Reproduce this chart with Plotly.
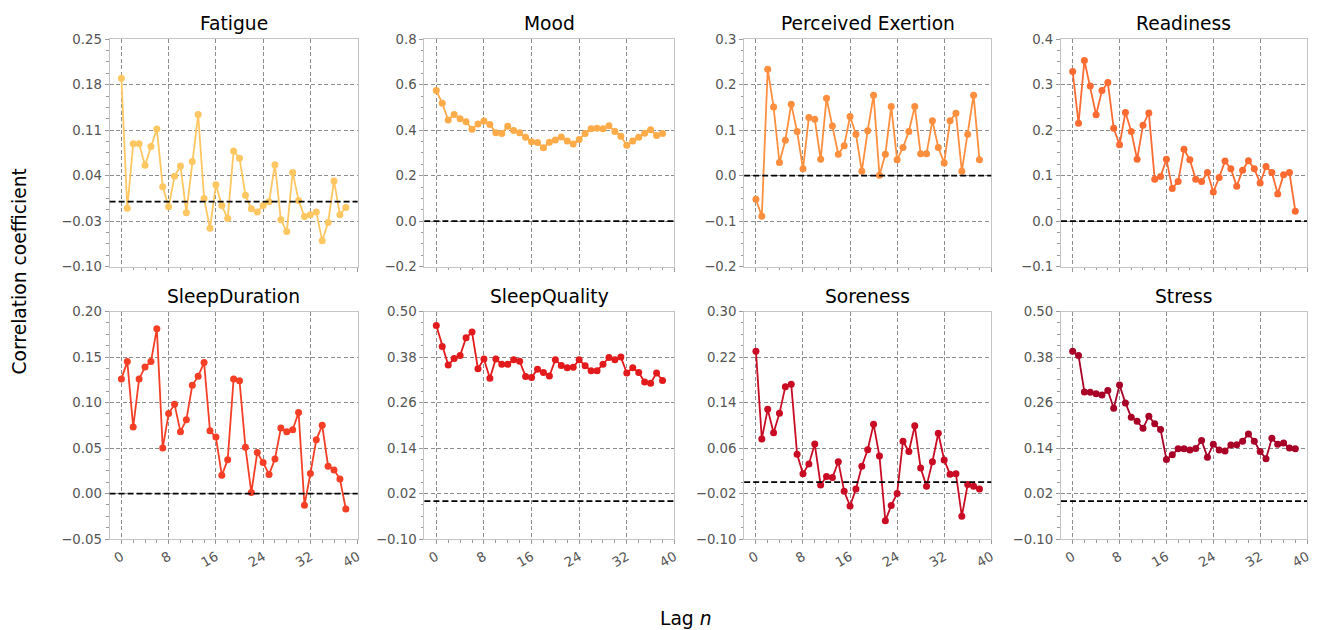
import plotly.graph_objects as go

# Lag values shared by every panel
lags = list(range(39))

fatigue = [0.190, -0.010, 0.089, 0.089, 0.056, 0.085, 0.112, 0.023, -0.008, 0.039,
           0.055, -0.017, 0.062, 0.134, 0.005, -0.041, 0.026, -0.006, -0.026, 0.078,
           0.067, 0.010, -0.011, -0.016, -0.006, 0.000, 0.057, -0.028, -0.046, 0.045,
           0.002, -0.023, -0.020, -0.016, -0.060, -0.032, 0.032, -0.020, -0.009]
mood = [0.574, 0.518, 0.445, 0.469, 0.450, 0.437, 0.404, 0.427, 0.440, 0.425,
        0.389, 0.386, 0.417, 0.399, 0.389, 0.369, 0.349, 0.346, 0.323, 0.347,
        0.357, 0.370, 0.353, 0.339, 0.359, 0.386, 0.406, 0.409, 0.406, 0.420,
        0.394, 0.373, 0.334, 0.353, 0.369, 0.387, 0.402, 0.377, 0.386]
perceived_exertion = [-0.052, -0.089, 0.234, 0.151, 0.029, 0.078, 0.157, 0.097, 0.015, 0.128,
                      0.124, 0.036, 0.170, 0.109, 0.047, 0.066, 0.130, 0.091, 0.010, 0.099,
                      0.177, 0.001, 0.047, 0.152, 0.035, 0.062, 0.097, 0.152, 0.048, 0.048,
                      0.121, 0.062, 0.028, 0.121, 0.137, 0.010, 0.091, 0.177, 0.035]
readiness = [0.329, 0.215, 0.353, 0.297, 0.234, 0.287, 0.305, 0.204, 0.168, 0.239,
             0.197, 0.136, 0.211, 0.238, 0.092, 0.098, 0.136, 0.072, 0.087, 0.158,
             0.135, 0.092, 0.087, 0.107, 0.064, 0.096, 0.132, 0.115, 0.077, 0.112,
             0.133, 0.115, 0.084, 0.120, 0.107, 0.060, 0.102, 0.107, 0.022]
sleep_duration = [0.126, 0.145, 0.073, 0.126, 0.139, 0.145, 0.181, 0.050, 0.088, 0.098,
                  0.068, 0.081, 0.119, 0.129, 0.144, 0.069, 0.062, 0.020, 0.037, 0.126,
                  0.124, 0.051, 0.001, 0.045, 0.034, 0.021, 0.038, 0.072, 0.068, 0.070,
                  0.089, -0.013, 0.022, 0.059, 0.075, 0.030, 0.026, 0.016, -0.017]
sleep_quality = [0.463, 0.408, 0.359, 0.376, 0.384, 0.431, 0.446, 0.349, 0.375, 0.324,
                 0.375, 0.361, 0.361, 0.373, 0.369, 0.329, 0.326, 0.348, 0.339, 0.330,
                 0.373, 0.358, 0.352, 0.353, 0.373, 0.357, 0.344, 0.344, 0.361, 0.379,
                 0.373, 0.380, 0.338, 0.352, 0.339, 0.314, 0.311, 0.338, 0.318]
soreness = [0.230, 0.076, 0.128, 0.087, 0.121, 0.168, 0.172, 0.049, 0.015, 0.032,
            0.067, -0.005, 0.010, 0.008, 0.036, -0.016, -0.042, -0.012, 0.028, 0.057,
            0.102, 0.046, -0.068, -0.041, -0.020, 0.072, 0.054, 0.099, 0.025, -0.007,
            0.036, 0.086, 0.039, 0.014, 0.015, -0.060, -0.004, -0.007, -0.012]
stress = [0.395, 0.384, 0.288, 0.287, 0.283, 0.280, 0.292, 0.245, 0.306, 0.259,
          0.221, 0.211, 0.192, 0.224, 0.204, 0.189, 0.110, 0.122, 0.138, 0.138,
          0.135, 0.139, 0.160, 0.116, 0.150, 0.135, 0.132, 0.148, 0.149, 0.158,
          0.177, 0.158, 0.131, 0.112, 0.166, 0.150, 0.153, 0.140, 0.138]

titles = ["Fatigue", "Mood", "Perceived Exertion", "Readiness",
          "SleepDuration", "SleepQuality", "Soreness", "Stress"]
series = [fatigue, mood, perceived_exertion, readiness,
          sleep_duration, sleep_quality, soreness, stress]
colors = ["#fec762", "#feab4a", "#fd8f3e", "#fc6c32",
          "#f43f26", "#e31a1c", "#c90b23", "#a80026"]

# y-axis limits and tick decimals per panel
y_limits = [(-0.10, 0.25), (-0.2, 0.8), (-0.2, 0.3), (-0.1, 0.4),
            (-0.05, 0.20), (-0.10, 0.50), (-0.10, 0.30), (-0.10, 0.50)]
y_decimals = [2, 1, 1, 1, 2, 2, 2, 2]
x_ticks = [0, 8, 16, 24, 32, 40]

W, H = 1319, 630
col_px = [(110, 359), (426, 677), (747, 995), (1065, 1312)]
row_px = [(33, 266), (312, 545)]

FONT = "DejaVu Sans"
TICK_GRAY = "#555555"
GRID = "#8c8c8c"
SPINE = "#c4c4c4"

fig = go.Figure()
annotations = []
shapes = []

for i, (title, ys, color) in enumerate(zip(titles, series, colors)):
    r, c = divmod(i, 4)
    xs = "" if i == 0 else str(i + 1)
    xdom = [col_px[c][0] / W, col_px[c][1] / W]
    ydom = [1 - row_px[r][1] / H, 1 - row_px[r][0] / H]

    fig.add_trace(go.Scatter(
        x=lags, y=ys, mode="lines+markers",
        line=dict(color=color, width=1.8),
        marker=dict(color=color, size=7),
        xaxis="x" + xs, yaxis="y" + xs, showlegend=False,
    ))

    lo, hi = y_limits[i]
    step = (hi - lo) / 5
    yt = [lo + k * step for k in range(6)]
    fmt = "{:.%df}" % y_decimals[i]
    ytext = [fmt.format(v + 0.0).replace("-", "\u2212") for v in yt]
    ytext = [t if t not in ("\u22120.00", "\u22120.0") else t[1:] for t in ytext]
    yminor = [lo + k * step / 4 for k in range(21) if k % 4]

    axis_common = dict(
        showline=True, mirror=True, linecolor=SPINE, linewidth=1,
        showgrid=True, gridcolor=GRID, gridwidth=1, griddash="4px,2.5px",
        zeroline=False, ticks="outside", ticklen=4, tickwidth=1,
        tickcolor="#9a9a9a",
        tickfont=dict(family=FONT, size=13.3, color=TICK_GRAY),
    )

    fig.update_layout(**{
        "xaxis" + xs: dict(
            axis_common, domain=xdom, anchor="y" + xs, range=[-2, 40],
            tickmode="array", tickvals=x_ticks,
            ticktext=[str(v) for v in x_ticks],
            showticklabels=(r == 1), tickangle=-30,
            minor=dict(ticks="outside", ticklen=2.5, tickcolor="#9a9a9a",
                       tickmode="array", tickvals=[v for v in range(0, 41, 2) if v % 8],
                       showgrid=False),
        ),
        "yaxis" + xs: dict(
            axis_common, domain=ydom, anchor="x" + xs, range=[lo, hi],
            tickmode="array", tickvals=yt, ticktext=ytext,
            minor=dict(ticks="outside", ticklen=2.5, tickcolor="#9a9a9a",
                       tickmode="array", tickvals=yminor, showgrid=False),
        ),
    })

    # zero reference line
    shapes.append(dict(
        type="line", xref=("x" + xs) + " domain", yref="y" + xs,
        x0=0, x1=1, y0=0, y1=0,
        line=dict(color="black", width=1.8, dash="6px,3px"),
    ))

    annotations.append(dict(
        text=title, showarrow=False, xref="paper", yref="paper",
        x=(xdom[0] + xdom[1]) / 2, y=ydom[1], xanchor="center", yanchor="bottom",
        yshift=3, font=dict(family=FONT, size=18.7, color="black"),
    ))

annotations.append(dict(
    text="Lag <i>n</i>", showarrow=False, xref="paper", yref="paper",
    x=689 / W, y=1 - 618 / H, xanchor="center", yanchor="middle", yshift=-8,
    font=dict(family=FONT, size=18.7, color="black"),
))
annotations.append(dict(
    text="Correlation coefficient", showarrow=False, xref="paper", yref="paper",
    x=20 / W, y=1 - 271 / H, xanchor="center", yanchor="middle", textangle=-90,
    font=dict(family=FONT, size=18.7, color="black"),
))

fig.update_layout(
    width=W, height=H,
    margin=dict(l=0, r=0, t=0, b=0),
    paper_bgcolor="white", plot_bgcolor="white",
    annotations=annotations, shapes=shapes,
    font=dict(family=FONT),
)

fig.write_html("out.html")
